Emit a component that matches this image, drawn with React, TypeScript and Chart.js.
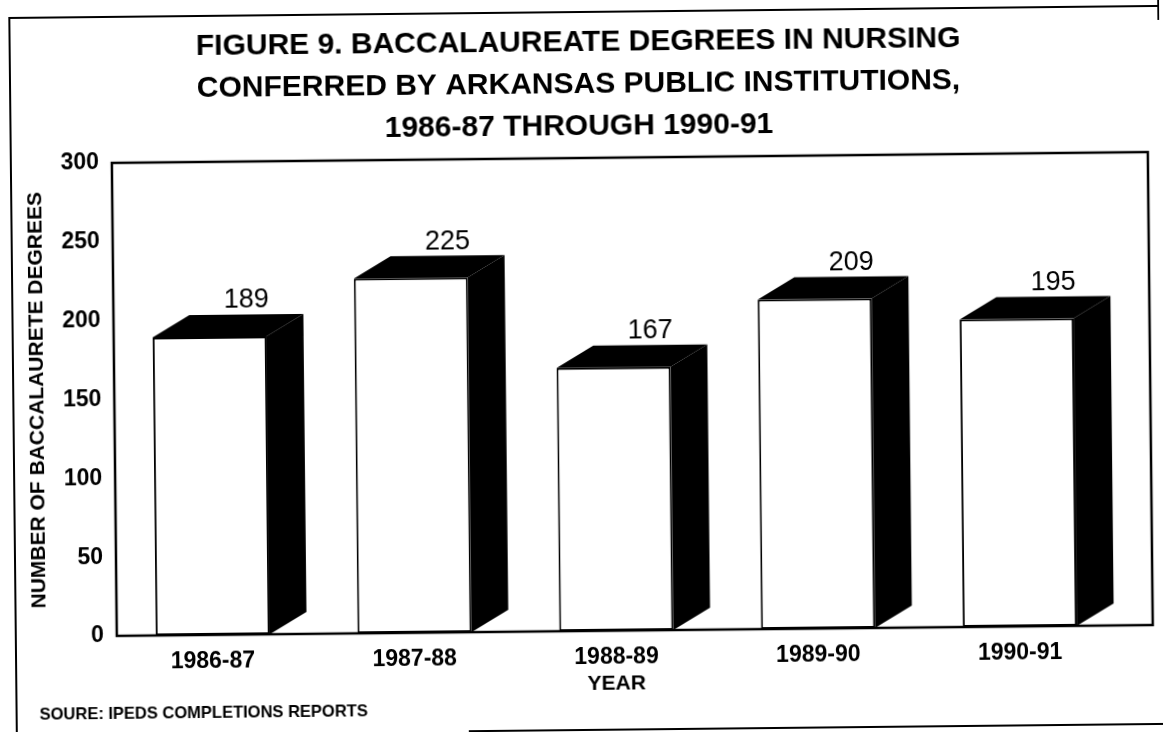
import React, { useEffect, useRef } from "react";
import { Chart, registerables } from "chart.js";

Chart.register(...registerables);

const categories = ["1986-87", "1987-88", "1988-89", "1989-90", "1990-91"];
const degrees = [189, 225, 167, 209, 195];
const yTicks = [0, 50, 100, 150, 200, 250, 300];
const titleLines = [
  "FIGURE 9. BACCALAUREATE DEGREES IN NURSING",
  "CONFERRED BY ARKANSAS PUBLIC INSTITUTIONS,",
  "1986-87 THROUGH 1990-91",
];
const yAxisTitle = "NUMBER OF BACCALAURETE DEGREES";
const xAxisTitle = "YEAR";
const sourceNote = "SOURE: IPEDS COMPLETIONS REPORTS";

const FONT = "'Liberation Sans', Arial, Helvetica, sans-serif";
const DEPTH_X = 37;
const DEPTH_Y = -22;

const framePlugin = {
  id: "frame3d",
  beforeDraw(chart: any) {
    const { ctx, width, height } = chart;
    ctx.save();
    ctx.fillStyle = "#fff";
    ctx.fillRect(0, 0, width, height);
    // scanned page border
    ctx.strokeStyle = "#000";
    ctx.lineWidth = 2;
    ctx.beginPath();
    ctx.moveTo(13, 732);
    ctx.lineTo(13, 12);
    ctx.lineTo(width, 12);
    ctx.stroke();
    ctx.beginPath();
    ctx.moveTo(width - 1, 0);
    ctx.lineTo(width - 1, 26);
    ctx.stroke();
    ctx.beginPath();
    ctx.moveTo(465, height - 2);
    ctx.lineTo(width, height - 2);
    ctx.stroke();
    ctx.restore();
  },
  afterDatasetsDraw(chart: any) {
    const { ctx, chartArea } = chart;
    ctx.save();
    ctx.strokeStyle = "#000";
    ctx.lineWidth = 2.5;
    ctx.strokeRect(
      chartArea.left + 5,
      chartArea.top,
      chartArea.right + 32 - (chartArea.left + 5),
      chartArea.bottom - chartArea.top
    );
    const meta = chart.getDatasetMeta(0);
    ctx.fillStyle = "#000";
    meta.data.forEach((bar: any, i: number) => {
      const { x, y, base, width } = bar.getProps(["x", "y", "base", "width"], true);
      const left = x - width / 2;
      const right = x + width / 2;
      ctx.beginPath();
      ctx.moveTo(left, y);
      ctx.lineTo(left + DEPTH_X, y + DEPTH_Y);
      ctx.lineTo(right + DEPTH_X, y + DEPTH_Y);
      ctx.lineTo(right, y);
      ctx.closePath();
      ctx.fill();
      ctx.beginPath();
      ctx.moveTo(right, y);
      ctx.lineTo(right + DEPTH_X, y + DEPTH_Y);
      ctx.lineTo(right + DEPTH_X, base + DEPTH_Y);
      ctx.lineTo(right, base);
      ctx.closePath();
      ctx.fill();
      ctx.font = `27px ${FONT}`;
      ctx.textAlign = "center";
      ctx.textBaseline = "middle";
      ctx.fillText(String(degrees[i]), x + DEPTH_X, y + DEPTH_Y - 14);
    });
    ctx.restore();
  },
  afterDraw(chart: any) {
    const { ctx, height } = chart;
    ctx.save();
    ctx.fillStyle = "#000";
    ctx.font = `bold 16.5px ${FONT}`;
    ctx.textAlign = "left";
    ctx.textBaseline = "middle";
    ctx.fillText(sourceNote, 36, height - 23);
    ctx.restore();
  },
};

export default function App() {
  const canvasRef = useRef<HTMLCanvasElement | null>(null);

  useEffect(() => {
    if (!canvasRef.current) return;
    Chart.defaults.color = "#000";
    const chart = new Chart(canvasRef.current, {
      type: "bar",
      data: {
        labels: categories,
        datasets: [
          {
            data: degrees,
            backgroundColor: "#fff",
            borderColor: "#000",
            borderWidth: 2,
            borderSkipped: false,
            barPercentage: 0.565,
            categoryPercentage: 1,
          },
        ],
      },
      options: {
        responsive: false,
        animation: false,
        events: [],
        layout: { padding: { left: 0, right: 0, top: 0, bottom: 31 } },
        plugins: {
          legend: { display: false },
          tooltip: { enabled: false },
          title: {
            display: true,
            text: titleLines,
            color: "#000",
            font: { family: FONT, size: 30, weight: "bold", lineHeight: 1.4 },
            padding: { top: 22, bottom: 10 },
          },
        },
        scales: {
          x: {
            grid: { display: false },
            border: { display: false },
            ticks: {
              color: "#000",
              padding: 5,
              font: { family: FONT, size: 23, weight: "bold" },
            },
            title: {
              display: true,
              text: xAxisTitle,
              color: "#000",
              font: { family: FONT, size: 21, weight: "bold" },
              padding: { top: 0, bottom: 4 },
            },
            afterFit: (s: any) => {
              s.height = 70;
            },
          },
          y: {
            min: 0,
            max: 300,
            grid: { display: false },
            border: { display: false },
            afterBuildTicks: (s: any) => {
              s.ticks = yTicks.map((v) => ({ value: v }));
            },
            ticks: {
              color: "#000",
              padding: 0,
              font: { family: FONT, size: 23, weight: "bold" },
            },
            title: {
              display: true,
              text: yAxisTitle,
              color: "#000",
              font: { family: FONT, size: 21, weight: "bold" },
              padding: { top: 25, bottom: 0 },
            },
            afterFit: (s: any) => {
              s.width = 109;
            },
          },
          depthSpace: {
            type: "linear",
            position: "right",
            grid: { display: false },
            border: { display: false },
            ticks: { display: false },
            afterFit: (s: any) => {
              s.width = 45;
            },
          },
        },
      },
      plugins: [framePlugin],
    });
    return () => chart.destroy();
  }, []);

  return (
    <canvas
      ref={canvasRef}
      width={1163}
      height={732}
      style={{
        position: "fixed",
        left: 0,
        top: 0,
        width: 1163,
        height: 732,
        display: "block",
        transform: "rotate(-0.6deg)",
        transformOrigin: "50% 50%",
      }}
    />
  );
}
